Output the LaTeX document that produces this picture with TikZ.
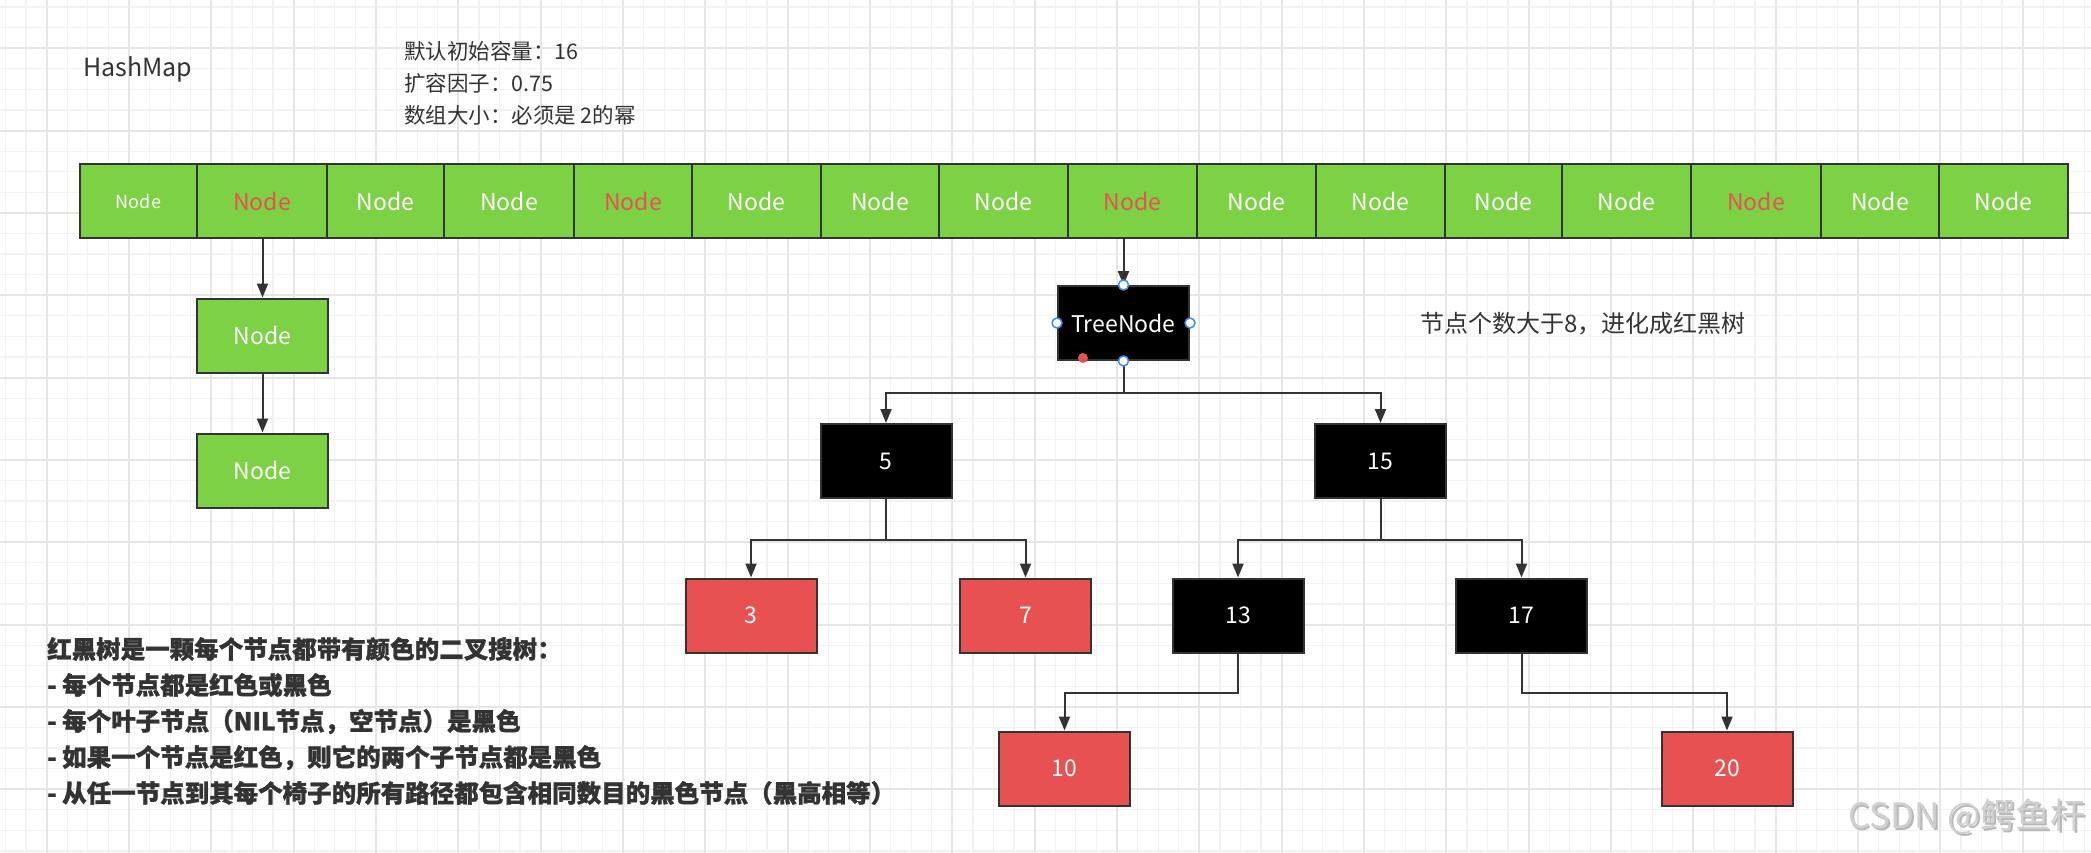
\documentclass[tikz,border=0pt]{standalone}
\usepackage{fontspec}
\setmainfont{Noto Sans CJK SC}
\newfontfamily\heavy[BoldFeatures={FakeBold=1.2}]{Noto Sans CJK SC}
\usetikzlibrary{arrows.meta}
\definecolor{gfill}{HTML}{7DD145}
\definecolor{rfill}{HTML}{E85151}
\definecolor{ink}{HTML}{333333}
\definecolor{gridminor}{HTML}{F2F2F2}
\definecolor{gridmajor}{HTML}{E6E6E6}
\definecolor{handle}{HTML}{3D8FE8}
\definecolor{wmark}{HTML}{D0D0D0}
\definecolor{wshade}{HTML}{B8B8B8}
\begin{document}
\begin{tikzpicture}[x=1pt,y=-1pt,
  box/.style={draw=ink, line width=2pt, minimum width=131pt, minimum height=74pt, inner sep=0pt, text=white, font=\fontsize{23}{23}\selectfont},
  cell/.style={box, fill=gfill},
  blk/.style={box, fill=black},
  rbox/.style={box, fill=rfill},
  conn/.style={draw=ink, line width=2pt, -{Triangle[length=14pt,width=11pt]}},
  plain/.style={text=ink, inner sep=0pt, anchor=west},
  hnd/.style={draw=handle, line width=1.5pt, fill=white}
]
\useasboundingbox (0,0) rectangle (2091,853);
\fill[white] (0,0) rectangle (2091,853);
% grid
\foreach \i in {0,...,101} \draw[gridminor, line width=1.3pt] ({5.5+20.583*\i},0) -- ++(0,853);
\foreach \j in {0,...,41} \draw[gridminor, line width=1.3pt] (0,{7.1+20.583*\j}) -- ++(2091,0);
\foreach \i in {0,...,24} \draw[gridmajor, line width=1.8pt] ({46.7+82.33*\i},0) -- ++(0,853);
\foreach \j in {0,...,9} \draw[gridmajor, line width=1.8pt] (0,{48.3+82.33*\j}) -- ++(2091,0);

% texts
\node[plain, font=\fontsize{25}{25}\selectfont] (title) at (83,69) {HashMap};
\node[plain, align=left, font=\fontsize{21.5}{32}\selectfont] (info) at (404,83) {默认初始容量：16\\扩容因子：0.75\\数组大小：必须是 2的幂};
\node[plain, font=\fontsize{24}{24}\selectfont] (note) at (1420,324) {节点个数大于8，进化成红黑树};
\node[plain, align=left, font=\heavy\bfseries\fontsize{24.5}{36}\selectfont] (rules) at (47,721) {红黑树是一颗每个节点都带有颜色的二叉搜树：\\- 每个节点都是红色或黑色\\- 每个叶子节点（NIL节点，空节点）是黑色\\- 如果一个节点是红色，则它的两个子节点都是黑色\\- 从任一节点到其每个椅子的所有路径都包含相同数目的黑色节点（黑高相等）};
\node[anchor=east, inner sep=0pt, text=wshade, font=\fontsize{35}{35}\selectfont] (wms) at (2087.5,818.5) {CSDN @鳄鱼杆};
\node[anchor=east, inner sep=0pt, text=wmark, font=\fontsize{35}{35}\selectfont] (wm) at (2086,817) {CSDN @鳄鱼杆};

% array
\node[cell, minimum width=117pt, font=\fontsize{18}{18}\selectfont] (c1) at (138.5,201) {Node};
\foreach \l/\r/\n/\t in {197/327/2/rfill, 327/444/3/white, 444/574/4/white, 574/692/5/rfill, 692/821/6/white, 821/939/7/white, 939/1068/8/white, 1068/1197/9/rfill, 1197/1316/10/white, 1316/1445/11/white, 1445/1562/12/white, 1562/1691/13/white, 1691/1821/14/rfill, 1821/1939/15/white, 1939/2068/16/white}
  \node[cell, minimum width={(\r-\l)*1pt}, text=\t] (c\n) at ({(\l+\r)/2},201) {Node};

% list
\node[cell] (n1) at (262.5,335.5) {Node};
\node[cell] (n2) at (262.5,470.5) {Node};
\draw[conn] (n1.north |- c2.south) -- (n1.north);
\draw[conn] (n1.south) -- (n2.north);

% tree
\node[blk] (tree) at (1123.5,323) {TreeNode};
\node[blk] (b5) at (886,461) {5};
\node[blk] (b15) at (1380.5,461) {15};
\node[rbox] (b3) at (751,615.5) {3};
\node[rbox] (b7) at (1025.5,615.5) {7};
\node[blk] (b13) at (1238,615.5) {13};
\node[blk] (b17) at (1521.5,615.5) {17};
\node[rbox] (b10) at (1064.5,768.5) {10};
\node[rbox] (b20) at (1727,768.5) {20};

\draw[conn] (tree.north |- c9.south) -- (tree.north);
\draw[conn] (tree.south) -- ++(0,31.5) -| (b5.north);
\draw[conn] (tree.south) -- ++(0,31.5) -| (b15.north);
\draw[conn] (b5.south) -- ++(0,41) -| (b3.north);
\draw[conn] (b5.south) -- ++(0,41) -| (b7.north);
\draw[conn] (b15.south) -- ++(0,41) -| (b13.north);
\draw[conn] (b15.south) -- ++(0,41) -| (b17.north);
\draw[conn] (b13.south) -- ++(0,39) -| (b10.north);
\draw[conn] (b17.south) -- ++(0,39) -| (b20.north);

% selection handles
\foreach \a in {north,south,east,west} \draw[hnd] (tree.\a) circle (5pt);
\fill[rfill] (1083,358) circle (5pt);
\end{tikzpicture}
\end{document}
